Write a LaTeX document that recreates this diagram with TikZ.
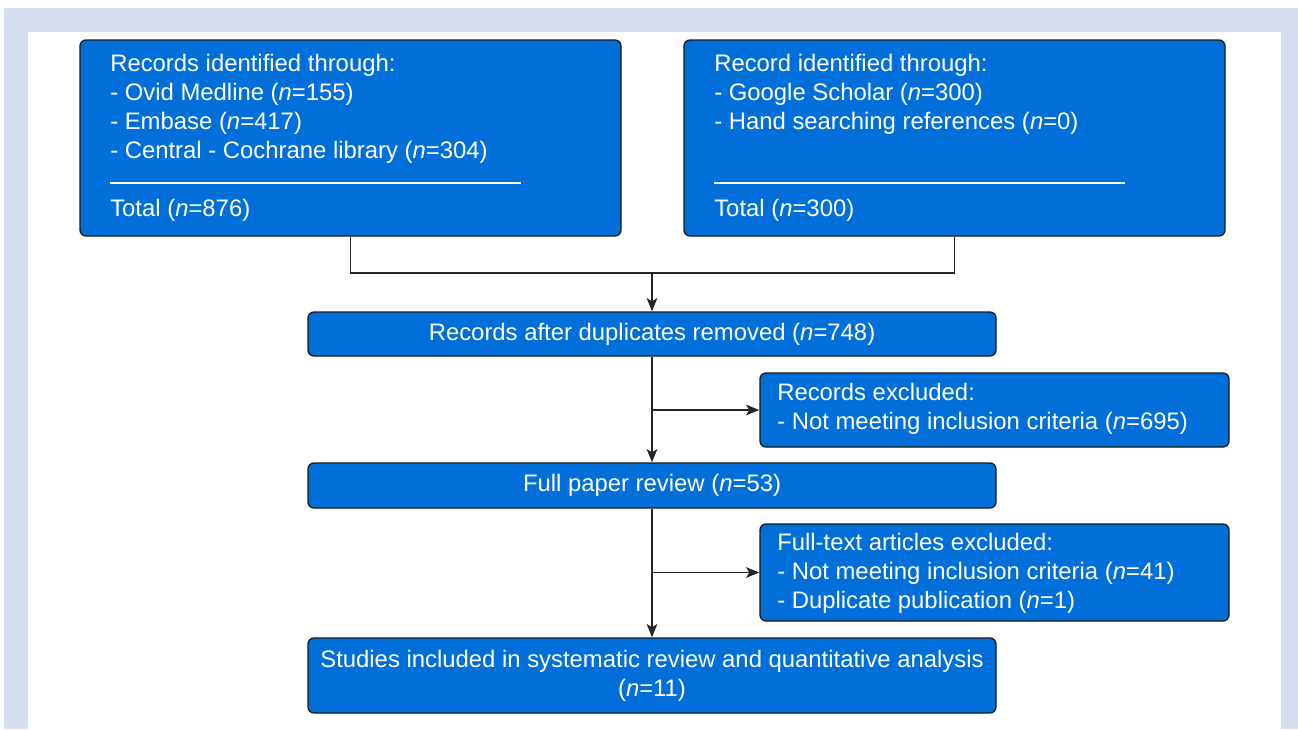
\documentclass[tikz,border=0pt]{standalone}
\usepackage{fontspec}
\setmainfont{Liberation Sans}
\usepackage{xcolor}
\usepackage{tikz}
\usetikzlibrary{arrows.meta,positioning,calc}

\definecolor{boxblue}{RGB}{0,111,217}
\definecolor{framegray}{RGB}{214,221,238}
\newcommand{\nn}{\textit{n}}
\newcommand{\boxfont}{\fontsize{17.9}{21.75}\selectfont}

\begin{document}
\begin{tikzpicture}[
  x=0.75pt, y=-0.75pt,
  box/.style={rectangle, draw=black!90, line width=1pt, rounded corners=4.5pt, fill=boxblue, text=white, align=center, inner sep=0pt, font=\boxfont},
  txt/.style={text=white, align=left, inner sep=0pt, anchor=west, font=\boxfont},
  rule/.style={draw=white, line width=1.5pt},
  line/.style={draw=black!85, line width=1pt},
  arrow/.style={line, -{Stealth[length=10pt,width=8pt,inset=2.5pt]}}
]
  \useasboundingbox (0,0) rectangle (1298,729);
  \fill[framegray] (4,8) rectangle (1298,729);
  \fill[white] (28,32) rectangle (1281,729);

  % search boxes
  \node[box, minimum width=405.75pt, minimum height=147pt] (ovid) at (350.5,138) {};
  \node[box, minimum width=405.75pt, minimum height=147pt] (google) at (954.5,138) {};
  \node[txt] (ovidtxt) at (110,109) {Records identified through:\\
    - Ovid Medline (\nn=155)\\
    - Embase (\nn=417)\\
    - Central - Cochrane library (\nn=304)};
  \node[txt] (ovidtot) at (110,210.5) {Total (\nn=876)};
  \draw[rule] (110,183) -- (521,183);
  \node[txt] (googletxt) at (714,94.5) {Record identified through:\\
    - Google Scholar (\nn=300)\\
    - Hand searching references (\nn=0)};
  \node[txt] (googletot) at (714,210.5) {Total (\nn=300)};
  \draw[rule] (714,183) -- (1125,183);

  % screening
  \node[box, minimum width=516pt, minimum height=33pt] (dedup) at (652,334) {\raisebox{-1.5pt}{Records after duplicates removed (\nn=748)}};
  \node[box, minimum width=351.75pt, minimum height=55.5pt] (excl1) at (994.5,410) {};
  \node[txt] (excl1txt) at (777,409) {Records excluded:\\
    - Not meeting inclusion criteria (\nn=695)};
  \node[box, minimum width=516pt, minimum height=33.75pt] (full) at (652,485.5) {\raisebox{-1.5pt}{Full paper review (\nn=53)}};
  \node[box, minimum width=351.75pt, minimum height=72.75pt] (excl2) at (994.5,572.5) {};
  \node[txt] (excl2txt) at (777,573.5) {Full-text articles excluded:\\
    - Not meeting inclusion criteria (\nn=41)\\
    - Duplicate publication (\nn=1)};
  \node[box, minimum width=516pt, minimum height=56.25pt] (incl) at (652,675.5) {Studies included in systematic review and quantitative analysis\\ (\nn=11)};

  % connectors
  \coordinate (join) at (652,273);
  \draw[line] (ovid.south) |- (join) -| (google.south);
  \draw[arrow] (join) -- (dedup.north);
  \draw[arrow] (dedup) -- (full);
  \draw[arrow] (dedup |- excl1) -- (excl1);
  \draw[arrow] (full) -- (incl);
  \draw[arrow] (full |- excl2) -- (excl2);
\end{tikzpicture}
\end{document}
